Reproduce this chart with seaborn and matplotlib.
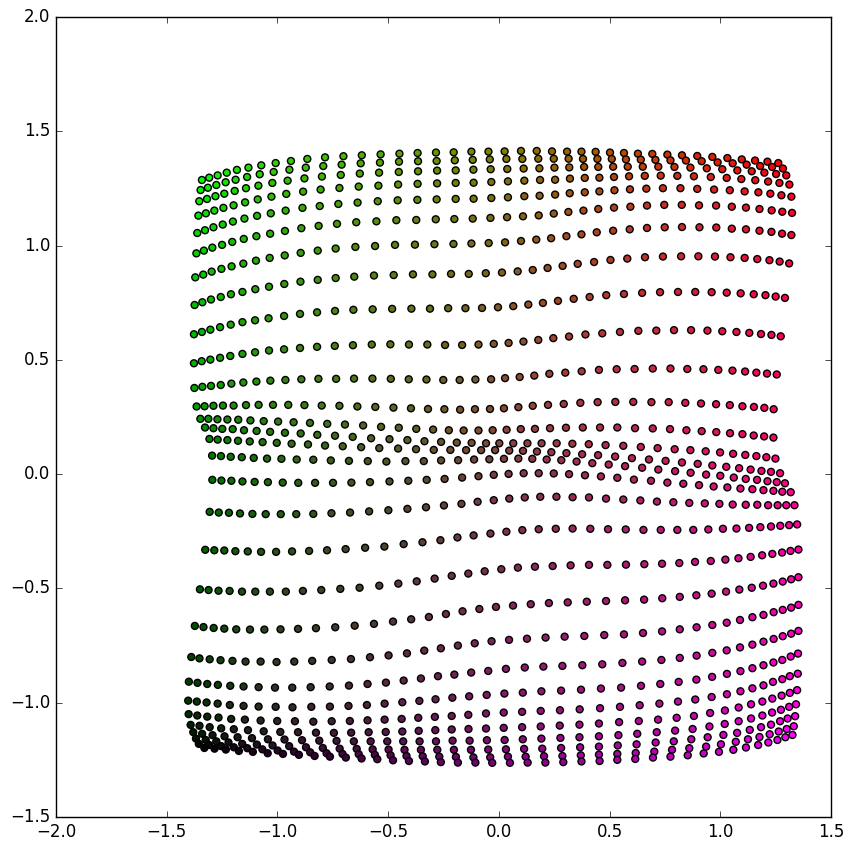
import numpy as np
import pandas as pd
import matplotlib
matplotlib.use("Agg")
import matplotlib.pyplot as plt
import seaborn as sns

r01x = [-1.341,-1.308,-1.270,-1.229,-1.183,-1.131,-1.073,-1.008,-.939,-.865,-.785,-.702,-.619,-.534,-.449,-.367,-.284,-.204,-.124,-.047,.026,.100,.171,.240,.308,.373,.437,.502,.565,.628,.693,.761,.827,.896,.964,1.032,1.097,1.157,1.213,1.262]
r01y = [1.287,1.297,1.307,1.319,1.331,1.341,1.351,1.361,1.370,1.379,1.386,1.391,1.395,1.399,1.402,1.405,1.407,1.408,1.411,1.411,1.412,1.414,1.414,1.412,1.411,1.411,1.410,1.407,1.405,1.402,1.401,1.398,1.395,1.392,1.388,1.383,1.377,1.372,1.367,1.361]
r02x = [-1.347,-1.314,-1.276,-1.234,-1.189,-1.137,-1.080,-1.017,-.946,-.872,-.793,-.710,-.624,-.537,-.451,-.365,-.281,-.199,-.118,-.041,.034,.106,.178,.248,.315,.380,.445,.510,.574,.641,.707,.775,.845,.916,.988,1.056,1.119,1.180,1.234,1.283]
r02y = [1.243,1.253,1.265,1.277,1.288,1.300,1.312,1.322,1.332,1.341,1.348,1.354,1.360,1.363,1.367,1.369,1.370,1.373,1.375,1.377,1.379,1.379,1.380,1.380,1.380,1.379,1.379,1.379,1.377,1.376,1.375,1.373,1.372,1.369,1.364,1.360,1.354,1.348,1.344,1.337]
r03x = [-1.353,-1.318,-1.280,-1.240,-1.193,-1.142,-1.086,-1.023,-.954,-.878,-.799,-.714,-.628,-.541,-.452,-.365,-.279,-.195,-.115,-.037,.038,.112,.183,.251,.318,.385,.449,.516,.582,.650,.720,.793,.865,.939,1.009,1.077,1.142,1.199,1.252,1.298]
r03y = [1.194,1.204,1.216,1.227,1.239,1.251,1.262,1.274,1.284,1.294,1.302,1.309,1.315,1.319,1.322,1.325,1.328,1.329,1.332,1.334,1.335,1.337,1.338,1.341,1.342,1.344,1.344,1.345,1.345,1.345,1.345,1.344,1.341,1.338,1.334,1.329,1.325,1.319,1.313,1.307]
r04x = [-1.357,-1.323,-1.285,-1.244,-1.198,-1.146,-1.089,-1.027,-.960,-.884,-.805,-.720,-.633,-.544,-.455,-.367,-.279,-.195,-.114,-.034,.041,.115,.186,.254,.321,.388,.454,.520,.588,.659,.731,.806,.881,.957,1.029,1.095,1.158,1.216,1.267,1.312]
r04y = [1.131,1.141,1.153,1.165,1.176,1.189,1.202,1.214,1.226,1.236,1.245,1.252,1.258,1.262,1.267,1.270,1.272,1.274,1.275,1.278,1.281,1.284,1.287,1.288,1.293,1.296,1.297,1.300,1.303,1.305,1.306,1.305,1.303,1.300,1.296,1.291,1.286,1.280,1.274,1.267]
r05x = [-1.362,-1.327,-1.289,-1.247,-1.201,-1.149,-1.092,-1.030,-.963,-.887,-.809,-.725,-.638,-.547,-.457,-.368,-.281,-.195,-.114,-.034,.041,.115,.184,.254,.320,.388,.454,.522,.592,.666,.741,.820,.896,.972,1.043,1.110,1.172,1.226,1.276,1.321]
r05y = [1.055,1.067,1.080,1.092,1.105,1.118,1.130,1.141,1.153,1.165,1.173,1.182,1.188,1.194,1.198,1.200,1.202,1.204,1.205,1.208,1.211,1.216,1.218,1.223,1.229,1.233,1.237,1.242,1.246,1.249,1.251,1.251,1.248,1.245,1.242,1.237,1.233,1.227,1.220,1.214]
r06x = [-1.366,-1.332,-1.294,-1.250,-1.204,-1.152,-1.095,-1.033,-.966,-.892,-.814,-.731,-.644,-.553,-.463,-.373,-.285,-.201,-.118,-.038,.037,.109,.180,.248,.314,.382,.449,.520,.594,.669,.747,.826,.904,.981,1.052,1.116,1.177,1.232,1.280,1.324]
r06y = [.966,.978,.991,1.003,1.016,1.029,1.041,1.052,1.064,1.076,1.086,1.095,1.102,1.106,1.111,1.112,1.115,1.116,1.118,1.121,1.124,1.128,1.132,1.140,1.147,1.153,1.160,1.166,1.170,1.175,1.178,1.178,1.176,1.175,1.170,1.166,1.160,1.154,1.148,1.143]
r07x = [-1.371,-1.335,-1.297,-1.253,-1.207,-1.154,-1.097,-1.035,-.967,-.895,-.818,-.737,-.648,-.559,-.469,-.379,-.291,-.205,-.124,-.046,.028,.100,.169,.236,.305,.373,.442,.516,.591,.669,.749,.827,.906,.982,1.052,1.116,1.177,1.231,1.279,1.321]
r07y = [.861,.873,.886,.898,.909,.921,.934,.946,.957,.968,.978,.987,.994,.998,1.003,1.004,1.006,1.007,1.009,1.011,1.014,1.020,1.026,1.032,1.041,1.049,1.058,1.065,1.071,1.077,1.080,1.081,1.080,1.079,1.074,1.071,1.065,1.060,1.052,1.046]
r08x = [-1.374,-1.339,-1.300,-1.256,-1.210,-1.158,-1.100,-1.038,-.969,-.896,-.818,-.737,-.653,-.564,-.475,-.388,-.300,-.216,-.136,-.059,.014,.085,.153,.220,.288,.356,.430,.504,.580,.660,.741,.823,.901,.976,1.046,1.110,1.167,1.222,1.268,1.311]
r08y = [.740,.752,.764,.775,.787,.797,.809,.820,.832,.842,.850,.858,.864,.869,.871,.874,.874,.876,.876,.879,.882,.887,.893,.902,.911,.920,.928,.937,.943,.949,.952,.953,.953,.952,.949,.946,.941,.936,.930,.922]
r09x = [-1.377,-1.341,-1.303,-1.259,-1.211,-1.158,-1.101,-1.040,-.970,-.898,-.821,-.740,-.657,-.570,-.482,-.395,-.311,-.229,-.151,-.076,-.004,.065,.133,.199,.267,.338,.410,.485,.565,.647,.728,.809,.887,.961,1.029,1.092,1.151,1.204,1.250,1.292]
r09y = [.612,.622,.632,.643,.654,.665,.673,.682,.692,.701,.708,.714,.719,.721,.723,.724,.724,.726,.726,.727,.730,.735,.742,.749,.758,.767,.775,.783,.788,.793,.796,.797,.797,.796,.794,.791,.787,.783,.777,.771]
r10x = [-1.377,-1.342,-1.303,-1.259,-1.213,-1.158,-1.101,-1.038,-.970,-.898,-.821,-.741,-.659,-.574,-.490,-.406,-.323,-.243,-.166,-.092,-.023,.044,.111,.178,.246,.317,.391,.467,.547,.630,.711,.791,.868,.942,1.009,1.073,1.131,1.184,1.231,1.273]
r10y = [.485,.494,.501,.509,.517,.526,.533,.541,.546,.552,.557,.561,.564,.567,.568,.567,.567,.565,.565,.567,.570,.574,.580,.587,.595,.602,.611,.616,.622,.627,.628,.630,.630,.628,.625,.622,.618,.613,.609,.603]
r11x = [-1.375,-1.339,-1.300,-1.256,-1.208,-1.154,-1.095,-1.032,-.964,-.892,-.815,-.735,-.654,-.571,-.488,-.407,-.327,-.251,-.177,-.106,-.035,.028,.094,.160,.228,.300,.374,.452,.532,.613,.695,.775,.851,.924,.991,1.055,1.112,1.163,1.211,1.255]
r11y = [.377,.382,.386,.390,.396,.401,.405,.409,.412,.415,.417,.417,.418,.418,.417,.415,.414,.412,.412,.414,.415,.420,.425,.431,.439,.444,.450,.456,.459,.460,.462,.462,.460,.459,.456,.453,.449,.444,.440,.436]
r12x = [-1.365,-1.329,-1.289,-1.246,-1.198,-1.142,-1.085,-1.020,-.951,-.878,-.800,-.720,-.639,-.558,-.476,-.397,-.320,-.246,-.175,-.108,-.040,.023,.088,.153,.222,.293,.368,.446,.526,.607,.689,.767,.842,.913,.981,1.043,1.100,1.152,1.199,1.241]
r12y = [.296,.297,.299,.300,.300,.302,.303,.303,.303,.302,.300,.299,.296,.294,.291,.288,.285,.284,.282,.284,.285,.288,.293,.299,.303,.307,.312,.315,.316,.316,.315,.315,.312,.309,.306,.302,.297,.294,.290,.284]
r13x = [-1.348,-1.312,-1.271,-1.226,-1.177,-1.122,-1.062,-.997,-.927,-.853,-.775,-.695,-.613,-.532,-.452,-.373,-.297,-.226,-.159,-.092,-.028,.035,.099,.163,.231,.303,.379,.457,.535,.615,.695,.773,.847,.916,.982,1.044,1.100,1.151,1.198,1.240]
r13y = [.242,.242,.240,.239,.238,.235,.232,.230,.227,.224,.220,.217,.213,.207,.203,.198,.195,.192,.191,.191,.192,.194,.197,.198,.201,.203,.204,.204,.204,.201,.200,.197,.192,.188,.184,.179,.175,.169,.165,.160]
r14x = [-1.327,-1.289,-1.249,-1.202,-1.151,-1.094,-1.033,-.966,-.895,-.820,-.740,-.660,-.577,-.494,-.413,-.336,-.261,-.190,-.123,-.058,.002,.065,.129,.193,.261,.332,.406,.482,.562,.641,.717,.794,.865,.934,.999,1.058,1.113,1.163,1.208,1.249]
r14y = [.204,.201,.198,.197,.192,.189,.185,.181,.178,.172,.168,.163,.157,.153,.149,.144,.141,.138,.137,.135,.135,.135,.135,.135,.135,.133,.131,.127,.124,.119,.114,.109,.105,.100,.095,.089,.084,.079,.074,.068]
r15x = [-1.307,-1.270,-1.226,-1.178,-1.125,-1.067,-1.003,-.936,-.862,-.785,-.705,-.622,-.540,-.455,-.374,-.294,-.219,-.148,-.080,-.017,.047,.109,.172,.237,.305,.376,.448,.525,.601,.678,.753,.827,.898,.964,1.027,1.085,1.137,1.186,1.229,1.270]
r15y = [.154,.151,.149,.146,.143,.140,.137,.133,.130,.125,.122,.118,.114,.112,.109,.106,.106,.105,.105,.105,.103,.102,.099,.096,.092,.087,.083,.077,.070,.064,.058,.051,.045,.038,.032,.026,.020,.014,.010,.004]
r16x = [-1.295,-1.255,-1.211,-1.161,-1.107,-1.047,-.982,-.913,-.838,-.759,-.677,-.592,-.508,-.422,-.339,-.261,-.184,-.112,-.043,.023,.088,.151,.216,.282,.351,.422,.496,.570,.647,.720,.796,.866,.936,1.000,1.061,1.115,1.166,1.213,1.255,1.292]
r16y = [.081,.079,.076,.074,.071,.068,.067,.064,.063,.060,.058,.057,.055,.057,.057,.060,.061,.064,.065,.067,.068,.067,.064,.061,.055,.048,.042,.035,.028,.020,.013,.006,-.002,-.007,-.015,-.021,-.025,-.031,-.035,-.040]
r17x = [-1.294,-1.253,-1.208,-1.158,-1.103,-1.043,-.976,-.906,-.830,-.749,-.666,-.582,-.494,-.409,-.326,-.245,-.166,-.092,-.023,.044,.112,.180,.248,.317,.389,.461,.535,.610,.687,.761,.833,.904,.970,1.032,1.091,1.145,1.195,1.240,1.280,1.318]
r17y = [-.025,-.028,-.029,-.032,-.034,-.035,-.037,-.038,-.038,-.038,-.037,-.035,-.032,-.029,-.025,-.021,-.015,-.009,-.003,.001,.004,.004,.003,.000,-.005,-.010,-.016,-.024,-.029,-.037,-.042,-.048,-.054,-.058,-.063,-.066,-.070,-.073,-.077,-.079]
r18x = [-1.306,-1.265,-1.219,-1.169,-1.113,-1.053,-.985,-.915,-.838,-.756,-.672,-.586,-.499,-.413,-.329,-.248,-.169,-.096,-.023,.047,.117,.187,.260,.333,.407,.484,.562,.639,.714,.788,.860,.930,.996,1.056,1.115,1.167,1.216,1.259,1.298,1.335]
r18y = [-.165,-.168,-.169,-.172,-.174,-.175,-.175,-.175,-.174,-.171,-.168,-.163,-.158,-.152,-.145,-.137,-.130,-.121,-.114,-.107,-.102,-.099,-.099,-.101,-.102,-.107,-.111,-.115,-.120,-.123,-.126,-.128,-.130,-.133,-.134,-.134,-.136,-.136,-.136,-.136]
r19x = [-1.326,-1.285,-1.240,-1.190,-1.134,-1.074,-1.006,-.934,-.857,-.776,-.692,-.604,-.517,-.430,-.345,-.264,-.187,-.114,-.038,.034,.106,.180,.257,.333,.413,.493,.573,.653,.731,.806,.878,.946,1.012,1.073,1.130,1.181,1.229,1.271,1.311,1.347]
r19y = [-.331,-.333,-.334,-.337,-.338,-.340,-.340,-.338,-.336,-.333,-.328,-.322,-.317,-.306,-.298,-.289,-.277,-.268,-.260,-.252,-.245,-.241,-.239,-.238,-.239,-.241,-.242,-.244,-.244,-.244,-.244,-.242,-.239,-.238,-.235,-.232,-.229,-.226,-.223,-.220]
r20x = [-1.350,-1.311,-1.266,-1.216,-1.160,-1.100,-1.034,-.962,-.885,-.802,-.716,-.629,-.540,-.454,-.371,-.290,-.213,-.138,-.064,.011,.086,.163,.243,.324,.407,.490,.574,.657,.737,.815,.886,.957,1.023,1.082,1.137,1.189,1.235,1.279,1.317,1.353]
r20y = [-.504,-.507,-.510,-.511,-.514,-.514,-.514,-.514,-.511,-.507,-.502,-.497,-.488,-.479,-.469,-.457,-.445,-.435,-.425,-.416,-.409,-.405,-.402,-.399,-.397,-.397,-.396,-.394,-.392,-.389,-.384,-.380,-.374,-.368,-.362,-.355,-.349,-.343,-.336,-.330]
r21x = [-1.373,-1.334,-1.288,-1.240,-1.186,-1.124,-1.059,-.986,-.907,-.826,-.739,-.651,-.564,-.478,-.396,-.316,-.239,-.164,-.088,-.013,.064,.144,.226,.311,.397,.484,.570,.656,.738,.817,.892,.961,1.026,1.086,1.142,1.193,1.240,1.282,1.320,1.353]
r21y = [-.664,-.669,-.673,-.676,-.679,-.680,-.680,-.679,-.677,-.674,-.670,-.663,-.655,-.645,-.635,-.625,-.612,-.600,-.590,-.581,-.575,-.569,-.564,-.561,-.558,-.555,-.552,-.549,-.543,-.537,-.530,-.523,-.514,-.505,-.497,-.488,-.479,-.470,-.460,-.451]
r22x = [-1.389,-1.352,-1.306,-1.257,-1.203,-1.144,-1.076,-1.004,-.924,-.843,-.755,-.668,-.582,-.498,-.415,-.337,-.262,-.185,-.109,-.033,.046,.127,.211,.297,.386,.476,.565,.651,.737,.817,.893,.964,1.029,1.089,1.145,1.195,1.241,1.282,1.320,1.353]
r22y = [-.800,-.806,-.810,-.814,-.817,-.820,-.820,-.822,-.820,-.817,-.813,-.809,-.801,-.793,-.784,-.772,-.762,-.750,-.740,-.731,-.725,-.720,-.715,-.711,-.708,-.704,-.701,-.695,-.688,-.679,-.670,-.660,-.650,-.638,-.626,-.616,-.604,-.594,-.584,-.572]
r23x = [-1.400,-1.361,-1.317,-1.269,-1.213,-1.153,-1.085,-1.011,-.933,-.850,-.764,-.677,-.593,-.510,-.430,-.352,-.275,-.201,-.125,-.048,.032,.117,.201,.287,.377,.467,.558,.647,.734,.817,.893,.964,1.029,1.089,1.145,1.195,1.241,1.282,1.320,1.353]
r23y = [-.908,-.913,-.918,-.922,-.926,-.929,-.932,-.934,-.934,-.932,-.929,-.925,-.918,-.912,-.903,-.894,-.884,-.877,-.868,-.861,-.852,-.846,-.842,-.839,-.836,-.832,-.826,-.820,-.813,-.804,-.794,-.782,-.771,-.758,-.746,-.733,-.721,-.709,-.698,-.686]
r24x = [-1.403,-1.364,-1.320,-1.270,-1.215,-1.153,-1.085,-1.008,-.932,-.847,-.763,-.679,-.596,-.516,-.436,-.359,-.286,-.210,-.134,-.055,.025,.108,.192,.281,.371,.461,.552,.642,.729,.812,.892,.963,1.030,1.091,1.145,1.195,1.240,1.280,1.318,1.351]
r24y = [-.991,-.995,-.999,-1.004,-1.010,-1.014,-1.017,-1.018,-1.020,-1.018,-1.017,-1.014,-1.010,-1.004,-.998,-.992,-.985,-.978,-.972,-.966,-.960,-.956,-.950,-.947,-.943,-.938,-.934,-.926,-.918,-.909,-.899,-.887,-.874,-.862,-.849,-.836,-.824,-.813,-.798,-.785]
r25x = [-1.401,-1.362,-1.317,-1.266,-1.209,-1.147,-1.076,-1.001,-.921,-.838,-.755,-.673,-.593,-.516,-.439,-.364,-.289,-.213,-.138,-.058,.022,.105,.189,.276,.365,.457,.547,.636,.725,.809,.887,.961,1.030,1.091,1.145,1.195,1.238,1.280,1.314,1.350]
r25y = [-1.050,-1.056,-1.061,-1.065,-1.071,-1.074,-1.078,-1.080,-1.081,-1.083,-1.081,-1.080,-1.077,-1.074,-1.071,-1.066,-1.062,-1.058,-1.053,-1.047,-1.043,-1.040,-1.036,-1.033,-1.029,-1.024,-1.018,-1.011,-1.004,-.995,-.986,-.975,-.963,-.950,-.937,-.924,-.909,-.897,-.884,-.873]
r26x = [-1.392,-1.352,-1.306,-1.254,-1.197,-1.133,-1.062,-.987,-.907,-.826,-.745,-.667,-.588,-.511,-.436,-.362,-.287,-.213,-.137,-.058,.022,.105,.189,.275,.364,.452,.543,.632,.719,.803,.881,.954,1.021,1.083,1.139,1.190,1.235,1.277,1.314,1.347]
r26y = [-1.097,-1.101,-1.107,-1.112,-1.116,-1.120,-1.125,-1.128,-1.129,-1.131,-1.132,-1.131,-1.129,-1.128,-1.126,-1.123,-1.120,-1.117,-1.115,-1.113,-1.110,-1.107,-1.104,-1.100,-1.096,-1.091,-1.085,-1.080,-1.074,-1.066,-1.058,-1.045,-1.034,-1.021,-1.007,-.995,-.982,-.969,-.957,-.945]
r27x = [-1.380,-1.340,-1.293,-1.239,-1.180,-1.115,-1.043,-.968,-.889,-.811,-.733,-.655,-.579,-.504,-.432,-.358,-.284,-.209,-.132,-.054,.026,.108,.192,.278,.364,.452,.540,.625,.713,.796,.875,.951,1.020,1.083,1.139,1.190,1.234,1.274,1.311,1.342]
r27y = [-1.129,-1.136,-1.142,-1.147,-1.151,-1.155,-1.160,-1.161,-1.164,-1.166,-1.167,-1.169,-1.169,-1.169,-1.169,-1.169,-1.169,-1.166,-1.166,-1.164,-1.163,-1.160,-1.157,-1.154,-1.151,-1.147,-1.142,-1.136,-1.129,-1.122,-1.115,-1.104,-1.093,-1.081,-1.069,-1.056,-1.043,-1.031,-1.018,-1.007]
r28x = [-1.368,-1.324,-1.276,-1.221,-1.159,-1.093,-1.022,-.947,-.871,-.795,-.719,-.642,-.570,-.498,-.426,-.352,-.278,-.203,-.126,-.048,.032,.114,.196,.281,.367,.452,.537,.622,.708,.790,.869,.943,1.014,1.076,1.133,1.184,1.229,1.270,1.304,1.338]
r28y = [-1.157,-1.163,-1.169,-1.174,-1.180,-1.183,-1.187,-1.190,-1.195,-1.198,-1.201,-1.202,-1.204,-1.205,-1.206,-1.206,-1.206,-1.206,-1.206,-1.205,-1.204,-1.202,-1.201,-1.198,-1.195,-1.192,-1.187,-1.182,-1.174,-1.169,-1.160,-1.151,-1.141,-1.132,-1.119,-1.107,-1.096,-1.081,-1.069,-1.059]
r29x = [-1.355,-1.308,-1.254,-1.197,-1.136,-1.068,-.999,-.925,-.852,-.778,-.706,-.633,-.560,-.489,-.417,-.344,-.269,-.194,-.115,-.039,.041,.121,.204,.287,.370,.452,.535,.618,.702,.782,.860,.936,1.003,1.070,1.125,1.177,1.223,1.264,1.300,1.332]
r29y = [-1.180,-1.185,-1.190,-1.195,-1.199,-1.204,-1.209,-1.214,-1.217,-1.221,-1.224,-1.225,-1.228,-1.230,-1.233,-1.234,-1.236,-1.237,-1.239,-1.239,-1.236,-1.236,-1.234,-1.233,-1.230,-1.227,-1.224,-1.220,-1.214,-1.206,-1.199,-1.192,-1.182,-1.171,-1.160,-1.150,-1.138,-1.126,-1.115,-1.103]
r30x = [-1.330,-1.284,-1.233,-1.174,-1.111,-1.044,-.975,-.903,-.832,-.763,-.691,-.620,-.549,-.478,-.406,-.334,-.262,-.185,-.106,-.030,.050,.130,.210,.291,.373,.455,.535,.616,.696,.775,.853,.925,.994,1.059,1.116,1.171,1.217,1.258,1.294,1.326]
r30y = [-1.198,-1.201,-1.205,-1.211,-1.215,-1.221,-1.224,-1.228,-1.233,-1.236,-1.240,-1.244,-1.247,-1.252,-1.255,-1.257,-1.260,-1.262,-1.262,-1.263,-1.263,-1.262,-1.262,-1.260,-1.257,-1.255,-1.250,-1.246,-1.240,-1.236,-1.230,-1.222,-1.215,-1.206,-1.196,-1.185,-1.174,-1.163,-1.151,-1.141]

row_x = [r01x,r02x,r03x,r04x,r05x,r06x,r07x,r08x,r09x,r10x,r11x,r12x,r13x,r14x,r15x,
         r16x,r17x,r18x,r19x,r20x,r21x,r22x,r23x,r24x,r25x,r26x,r27x,r28x,r29x,r30x]
row_y = [r01y,r02y,r03y,r04y,r05y,r06y,r07y,r08y,r09y,r10y,r11y,r12y,r13y,r14y,r15y,
         r16y,r17y,r18y,r19y,r20y,r21y,r22y,r23y,r24y,r25y,r26y,r27y,r28y,r29y,r30y]

plt.style.use("classic")

xs, ys, colours = [], [], []
n_rows = len(row_x)
for r, (rx, ry) in enumerate(zip(row_x, row_y)):
    v = 1 - r / (n_rows - 1)
    m = min(len(rx), len(ry))
    for c in range(m):
        u = c / (m - 1)
        xs.append(rx[c]); ys.append(ry[c])
        colours.append((u, (1 - u) * v, u * (1 - v)))

df = pd.DataFrame({"x": xs, "y": ys, "id": np.arange(len(xs))})

fig = plt.figure(figsize=(8.54, 8.48), dpi=100, facecolor="white")
ax = fig.add_axes([56 / 854, 1 - 817 / 848, 775 / 854, 800 / 848])
sns.scatterplot(data=df, x="x", y="y", hue="id", palette=colours, legend=False,
                s=25, edgecolor="black", linewidth=1, ax=ax)
ax.set_xlim(-2.0, 1.5)
ax.set_ylim(-1.5, 2.0)
ax.set_xticks(np.arange(-2.0, 1.51, 0.5))
ax.set_yticks(np.arange(-1.5, 2.01, 0.5))
ax.set_xlabel("")
ax.set_ylabel("")
ax.tick_params(labelsize=12)
fig.savefig("out.png", dpi=100, facecolor="white")
